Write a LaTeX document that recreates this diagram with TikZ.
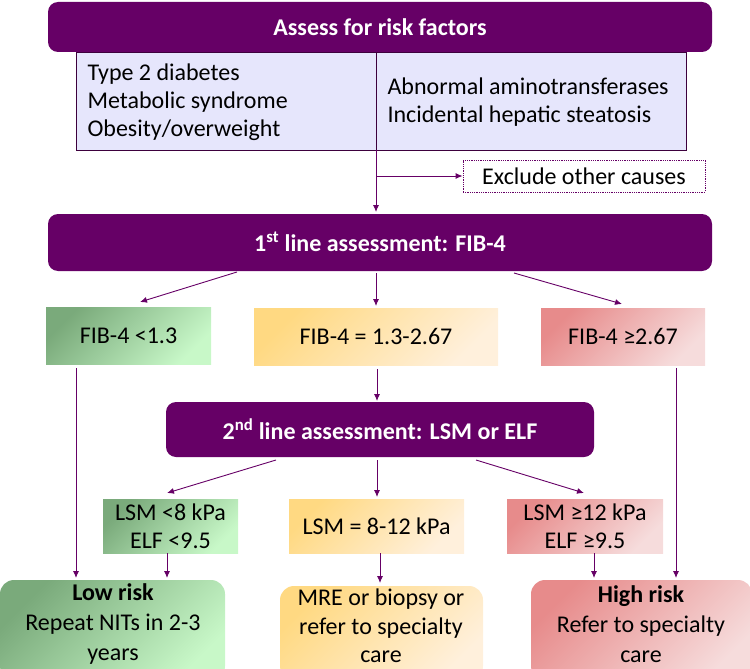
\documentclass[tikz,border=0pt]{standalone}
\usepackage{fontspec}
\setmainfont{Carlito}
\usetikzlibrary{arrows.meta}
\definecolor{purp}{HTML}{660066}
\definecolor{lav}{HTML}{E6E6FC}
\definecolor{gdark}{HTML}{7AAA7B}
\definecolor{glight}{HTML}{C8F8C8}
\definecolor{ydark}{HTML}{FFD982}
\definecolor{ylight}{HTML}{FFF0DC}
\definecolor{rdark}{HTML}{E78B8B}
\definecolor{rlight}{HTML}{F6DCDC}
\begin{document}
\begin{tikzpicture}[x=1pt,y=-1pt,
  hdr/.style={fill=purp,rounded corners=10pt,draw=none},
  hdrtxt/.style={text=white,font=\fontsize{24}{28}\selectfont\bfseries},
  body/.style={font=\fontsize{24}{28}\selectfont},
  arr/.style={draw=purp,line width=0.9pt,-{Latex[length=7pt,width=6pt]}},
  gbox/.style={top color=gdark,bottom color=glight,shading angle=45,draw=none},
  ybox/.style={top color=ydark,bottom color=ylight,shading angle=45,draw=none},
  rbox/.style={top color=rdark,bottom color=rlight,shading angle=45,draw=none},
]
\useasboundingbox (0,0) rectangle (750,669);
\begin{scope}
\clip (0,0) rectangle (750,669);
% top header
\path[hdr] (48,2) rectangle (712,52);
\node[hdrtxt] (t1) at (380,27) {Assess for risk factors};
% lavender box
\path[fill=lav,draw=purp!60!black,line width=0.6pt] (76,52) rectangle (686,150);
\draw[purp!60!black,line width=0.6pt] (376,52) -- (376,150);
\node[body,anchor=west,align=left] (lt) at (84,102) {Type 2 diabetes\\Metabolic syndrome\\Obesity/overweight};
\node[body,anchor=west,align=left] (rt) at (384,102) {Abnormal aminotransferases\\Incidental hepatic steatosis};
\coordinate (lavb) at (376,150);
\coordinate (br) at (376,176);
% exclude
\node[body,draw=purp,densely dotted,line width=0.8pt,minimum width=242pt,minimum height=32pt,inner sep=0pt] (ex) at (584,176) {Exclude other causes};
% first line
\path[hdr] (48,214) rectangle (712,271);
\node[hdrtxt] (f1) at (380,242) {1\textsuperscript{st} line assessment: FIB-4};
\draw[arr] (lavb) -- (376,212);
\draw[arr] (br) -- (ex.west);
% FIB boxes
\path[gbox] (46,307) rectangle (211,364);
\node[body] (fa) at (128.5,335.5) {FIB-4 <1.3};
\path[ybox] (254,308) rectangle (498,365);
\node[body] (fb) at (376,336.5) {FIB-4 = 1.3-2.67};
\path[rbox] (541,308) rectangle (705,365);
\node[body] (fc) at (623,336.5) {FIB-4 ≥2.67};
\draw[arr] (237,272) -- (140,302);
\draw[arr] (376,273) -- (376,306);
\draw[arr] (514,273) -- (622,304);
% second line
\path[hdr] (166,402) rectangle (594,457);
\node[hdrtxt] (s1) at (380,429.5) {2\textsuperscript{nd} line assessment: LSM or ELF};
\draw[arr] (377,369) -- (377,401);
\draw[arr] (276,460) -- (167,493);
\draw[arr] (377,460) -- (377,497);
\draw[arr] (476,460) -- (584,493);
% LSM boxes
\path[gbox] (103,499) rectangle (238,553);
\node[body,align=center] (la) at (170.5,526) {LSM <8 kPa\\ELF <9.5};
\path[ybox] (289,499) rectangle (464,553);
\node[body] (lb) at (376.5,526) {LSM = 8-12 kPa};
\path[rbox] (507,499) rectangle (663,553);
\node[body,align=center] (lc) at (585,526) {LSM ≥12 kPa\\ELF ≥9.5};
% outcome boxes
\path[gbox,rounded corners=14pt] (0,580) rectangle (225,680);
\node[body,align=center,font=\fontsize{24}{30}\selectfont] (oa) at (113,624) {\textbf{Low risk}\\Repeat NITs in 2-3\\years};
\path[ybox,rounded corners=14pt] (280,586) rectangle (483,680);
\node[body,align=center,font=\fontsize{24}{28.5}\selectfont] (ob) at (381,626) {MRE or biopsy or\\refer to specialty\\care};
\path[rbox,rounded corners=14pt] (531,580) rectangle (752,680);
\node[body,align=center,font=\fontsize{24}{30}\selectfont] (oc) at (641,624) {\textbf{High risk}\\Refer to specialty\\care};
\draw[arr] (76,368) -- (76,578);
\draw[arr] (676,368) -- (676,578);
\draw[arr] (167,553) -- (167,578);
\draw[arr] (380,553) -- (380,583);
\draw[arr] (594,553) -- (594,578);
\end{scope}
\end{tikzpicture}
\end{document}
